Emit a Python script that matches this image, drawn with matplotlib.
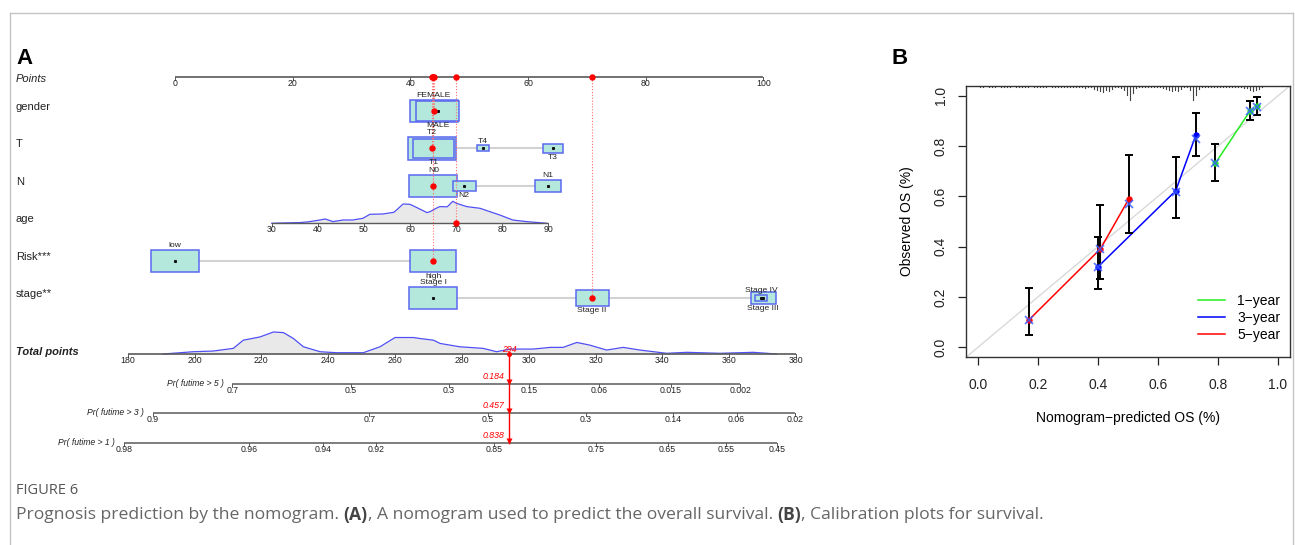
import numpy as np
import matplotlib
matplotlib.use("Agg")
import matplotlib.pyplot as plt
from matplotlib.patches import Rectangle
from matplotlib.lines import Line2D

W, H, DPI = 1295, 545, 100
SANS = ["Liberation Sans", "DejaVu Sans"]
plt.rcParams["font.family"] = SANS

# ---------------- nomogram data ----------------
points_ticks = [0, 20, 40, 60, 80, 100]

gender_levels = ["FEMALE", "MALE"]
gender_points = [44.0, 44.65]
gender_counts = [190, 155]

t_levels = ["T2", "T1", "T4", "T3"]
t_points = [43.7, 43.9, 52.35, 64.2]
t_counts = [180, 130, 13, 31]

n_levels = ["N0", "N2", "N1"]
n_points = [43.9, 49.15, 63.35]
n_counts = [240, 55, 70]

risk_levels = ["low", "high"]
risk_points = [0.0, 43.9]
risk_counts = [185, 170]

stage_levels = ["Stage I", "Stage II", "Stage IV", "Stage III"]
stage_points = [43.9, 70.9, 99.6, 100.0]
stage_counts = [190, 90, 12, 50]

age_ticks = [30, 40, 50, 60, 70, 80, 90]
age_points_at_30 = 16.44
age_points_per_year = 0.7833
age_density_x = [30, 32.2, 36.1, 38.0, 40.5, 41.6, 43.3, 45.5, 47.6, 49.8, 51.3, 54.1,
                 56.5, 57.5, 58.5, 60.0, 61.5, 63.7, 64.3, 65.9, 66.5, 68.1, 69.3, 70.1,
                 72.3, 75.2, 77.3, 79.5, 82.3, 85.3, 89.7]
age_density_y = [0, 0.3, 0.7, 1.5, 3.3, 4.3, 1.7, 3.3, 3.3, 5.0, 9.0, 9.3,
                 11.0, 15.0, 19.3, 19.0, 15.7, 10.7, 11.5, 15.5, 16.7, 16.5, 22.0, 20.0,
                 16.7, 15.0, 11.7, 8.3, 3.3, 1.7, 0]

total_ticks = [180, 200, 220, 240, 260, 280, 300, 320, 340, 360, 380]
total_density_x = [190.7, 199.6, 205.6, 211.6, 214.6, 219.6, 223.6, 226.6, 229.6, 232.6,
                   237.6, 242.5, 250.5, 255.5, 260.0, 265.5, 267.5, 271.5, 273.5, 279.4,
                   286.4, 290.4, 294.4, 301.4, 306.4, 310.3, 314.4, 318.3, 323.3, 328.3,
                   333.3, 341.3, 347.3, 357.2, 367.2, 374.2]
total_density_y = [0, 2.3, 3.0, 5.7, 14.0, 17.3, 22.3, 21.7, 15.7, 7.3,
                   2.3, 1.3, 1.3, 7.3, 16.7, 16.7, 15.7, 14.0, 10.7, 7.3,
                   5.7, 2.3, 5.0, 5.0, 6.7, 6.7, 11.7, 9.0, 4.0, 6.7,
                   4.0, 0.7, 1.7, 0.7, 1.7, 0]

pr5_ticks = [0.7, 0.5, 0.3, 0.15, 0.06, 0.015, 0.002]
pr3_ticks = [0.9, 0.7, 0.5, 0.3, 0.14, 0.06, 0.02]
pr1_ticks = [0.98, 0.96, 0.94, 0.92, 0.85, 0.75, 0.65, 0.55, 0.45]
surv_selected = {5: 0.184, 3: 0.457, 1: 0.838}
lp_per_total_point = 0.0188

sel = {"gender": "FEMALE", "T": "T2", "N": "N0", "age": 70, "Risk": "high", "stage": "Stage II"}

# ---------------- calibration data ----------------
pred_1 = [0.791, 0.907, 0.929]
obs_1 = [0.731, 0.940, 0.958]
lo_1 = [0.660, 0.903, 0.923]
hi_1 = [0.809, 0.980, 0.994]
corr_1 = [0.731, 0.940, 0.955]

pred_3 = [0.400, 0.659, 0.726]
obs_3 = [0.320, 0.622, 0.843]
lo_3 = [0.233, 0.515, 0.762]
hi_3 = [0.440, 0.756, 0.932]
corr_3 = [0.318, 0.618, 0.828]

pred_5 = [0.169, 0.408, 0.502]
obs_5 = [0.108, 0.391, 0.588]
lo_5 = [0.049, 0.270, 0.455]
hi_5 = [0.234, 0.564, 0.763]
corr_5 = [0.108, 0.390, 0.570]

calib_ticks = [0.0, 0.2, 0.4, 0.6, 0.8, 1.0]
hist_bin_width = 0.01
hist_counts = [1, 1, 0, 1, 1, 1, 0, 1, 1, 1,
               1, 0, 1, 1, 1, 1, 1, 0, 1, 1,
               1, 1, 1, 0, 1, 1, 1, 1, 1, 1,
               1, 1, 1, 1, 1, 2, 1, 1, 3, 4,
               5, 6, 4, 5, 3, 1, 1, 2, 4, 9,
               14, 7, 2, 1, 1, 1, 1, 1, 1, 1,
               1, 2, 3, 4, 5, 4, 5, 3, 1, 1,
               4, 14, 9, 3, 1, 1, 1, 1, 1, 1,
               1, 1, 1, 1, 1, 1, 1, 1, 2, 2,
               4, 5, 4, 3, 1]

# ---------------- figure ----------------
fig = plt.figure(figsize=(W / DPI, H / DPI), dpi=DPI)

# panel A works in nomogram "points" along x and pixel rows along y
P0, PPP = 175.0, 5.883          # pixel of 0 points, pixels per point
axA = fig.add_axes([0, 0, 1, 1])
axA.set_xlim(-P0 / PPP, (W - P0) / PPP)
axA.set_ylim(H, 0)
axA.axis("off")


def xp(px):
    return (px - P0) / PPP


ROW = dict(points=77, gender=111, T=148.3, N=186, age=223.3, risk=261, stage=298,
           total=354, pr5=384.3, pr3=413.3, pr1=443.3)
BOX_W, BOX_H = 48.0, 22.8
BOX_FC, BOX_EC = "#b4e8dc", "#5a68f0"
AXC = "#5a5a5a"
RED = "#ff0000"
TICKFS, SMALLFS, ROWFS = 6.3, 6.1, 8.0

TOT_LO, TOT_HI = xp(127.7), xp(796.0)


def total_to_x(t):
    return TOT_LO + (np.asarray(t, float) - total_ticks[0]) * (TOT_HI - TOT_LO) / (total_ticks[-1] - total_ticks[0])


def age_to_x(a):
    return age_points_at_30 + (np.asarray(a, float) - 30) * age_points_per_year


def draw_scale(xs, labels, y, lw=1.0):
    xs = np.asarray(xs, float)
    axA.plot([xs.min(), xs.max()], [y, y], color=AXC, lw=lw, solid_capstyle="butt", zorder=3)
    for xv, lab in zip(xs, labels):
        axA.plot([xv, xv], [y, y + 3], color=AXC, lw=0.7, zorder=3)
        axA.text(xv, y + 6.2, lab, ha="center", va="center", fontsize=TICKFS, color="#222222")


def row_label(txt, y, **kw):
    axA.text(xp(16), y, txt, ha="left", va="center", fontsize=ROWFS, color="#222222", **kw)


# Points scale
draw_scale(points_ticks, [str(v) for v in points_ticks], ROW["points"], lw=1.2)
row_label("Points", ROW["points"] + 2.3, style="italic")

selected_x = {}


def draw_factor(key, name, levels, pts, counts, y):
    cmax = max(counts)
    axA.plot([min(pts), max(pts)], [y, y], color="#d2d2d2", lw=1.5, zorder=1)
    sizes = [np.sqrt(c / cmax) for c in counts]
    for i in sorted(range(len(levels)), key=lambda k: -counts[k]):
        w = BOX_W * sizes[i] / PPP
        h = BOX_H * sizes[i]
        axA.add_patch(Rectangle((pts[i] - w / 2, y - h / 2), w, h, fc=BOX_FC, ec=BOX_EC,
                                lw=1.1, zorder=2))
    order = sorted(range(len(levels)), key=lambda k: pts[k])
    for rank, i in enumerate(order):
        h = BOX_H * sizes[i]
        ty = y - h / 2 - 4.2 if rank % 2 == 0 else y + h / 2 + 4.2
        axA.text(pts[i], ty, levels[i], ha="center", va="center", fontsize=SMALLFS, color="#222222", zorder=6)
        axA.plot(pts[i], y, "s", ms=1.2, color="#111111", zorder=4)
    j = levels.index(sel[key])
    selected_x[key] = (pts[j], y)
    row_label(name, y - 4.4)


draw_factor("gender", "gender", gender_levels, gender_points, gender_counts, ROW["gender"])
draw_factor("T", "T", t_levels, t_points, t_counts, ROW["T"])
draw_factor("N", "N", n_levels, n_points, n_counts, ROW["N"])

# age scale with density
ya = ROW["age"]
ax_age = age_to_x(age_density_x)
hd = np.asarray(age_density_y) / max(age_density_y) * 22.0
axA.fill_between(ax_age, ya, ya - hd, color="#e9e9e9", lw=0, zorder=1)
axA.plot(ax_age, ya - hd, color="#4f4ff5", lw=0.9, zorder=2)
draw_scale(age_to_x(age_ticks), [str(v) for v in age_ticks], ya)
row_label("age", ya - 4.3)
selected_x["age"] = (float(age_to_x(sel["age"])), ya)

draw_factor("Risk", "Risk***", risk_levels, risk_points, risk_counts, ROW["risk"])
draw_factor("stage", "stage**", stage_levels, stage_points, stage_counts, ROW["stage"])

# red markers for the chosen patient
for key, (sx, sy) in selected_x.items():
    axA.plot([sx, sx], [ROW["points"], sy], color="#ff7070", lw=0.8, ls=(0, (1, 1.6)), zorder=5)
    axA.plot(sx, sy, "o", ms=4.6, color=RED, mec="none", zorder=7)
    axA.plot(sx, ROW["points"], "o", ms=4.6, color=RED, mec="none", zorder=7)

total_sel = sum(v[0] for v in selected_x.values())

# total points scale with density
yt = ROW["total"]
tx = total_to_x(total_density_x)
hd = np.asarray(total_density_y) / max(total_density_y) * 22.0
axA.fill_between(tx, yt, yt - hd, color="#e9e9e9", lw=0, zorder=1)
axA.plot(tx, yt - hd, color="#4f4ff5", lw=0.9, zorder=2)
draw_scale(total_to_x(total_ticks), [str(v) for v in total_ticks], yt, lw=1.2)
row_label("Total points", yt - 2.3, style="italic", weight="bold")

x_tot = float(total_to_x(total_sel))
axA.text(x_tot, yt - 5, f"{round(total_sel)}", ha="center", va="center", fontsize=6.3,
         color=RED, style="italic", zorder=8)


# survival probability scales
def prob_to_x(p, horizon):
    lp = np.log(-np.log(np.asarray(p, float)))
    lp0 = np.log(-np.log(surv_selected[horizon]))
    return total_to_x(total_sel + (lp - lp0) / lp_per_total_point)


for horizon, ticks, key in [(5, pr5_ticks, "pr5"), (3, pr3_ticks, "pr3"), (1, pr1_ticks, "pr1")]:
    y = ROW[key]
    xs = prob_to_x(ticks, horizon)
    draw_scale(xs, [f"{v:g}" for v in ticks], y, lw=1.1)
    axA.text(xs.min() - 9 / PPP, y - 1.0, f"Pr( futime > {horizon} )", ha="right", va="center",
             fontsize=6.2, style="italic", color="#222222")
    axA.plot(x_tot, y - 2.2, "v", ms=4.2, color=RED, mec="none", zorder=8)
    axA.text(x_tot - 5 / PPP, y - 7.6, f"{surv_selected[horizon]:.3f}", ha="right", va="center",
             fontsize=6.3, color=RED, style="italic", zorder=8)

axA.plot([x_tot, x_tot], [yt, ROW["pr1"]], color=RED, lw=1.0, zorder=7)
axA.plot(x_tot, yt, "o", ms=3.6, color=RED, mec="none", zorder=8)

# panel letters
fig.text(16 / W, 1 - 58 / H, "A", fontsize=16, weight="bold", ha="left", va="center")
fig.text(891 / W, 1 - 58 / H, "B", fontsize=16, weight="bold", ha="left", va="center")

# ---------------- panel B: calibration ----------------
axB = fig.add_axes([966 / W, 1 - 357.3 / H, (1290 - 966) / W, (357.3 - 85.7) / H])
axB.set_xlim(-0.04, 1.04)
axB.set_ylim(-0.04, 1.04)
for s in axB.spines.values():
    s.set_color("#333333")
    s.set_linewidth(1.0)
axB.set_xticks(calib_ticks)
axB.set_xticklabels([f"{v:.1f}" for v in calib_ticks])
axB.set_yticks(calib_ticks)
axB.set_yticklabels([f"{v:.1f}" for v in calib_ticks], rotation=90, va="center")
axB.tick_params(axis="both", length=5.5, width=0.9, labelsize=10, colors="#222222")
axB.tick_params(axis="x", pad=9.5)
axB.tick_params(axis="y", pad=7.5)

axB.plot([-0.04, 1.04], [-0.04, 1.04], color="#d9d9d9", lw=1.0, zorder=1)

# distribution of predicted values hanging from the top border
spike_max = 0.056
cmax = max(hist_counts)
for i, c in enumerate(hist_counts):
    if c > 0:
        xv = (i + 0.5) * hist_bin_width
        axB.plot([xv, xv], [1.04, 1.04 - c / cmax * spike_max], color="#444444", lw=0.8, zorder=2)

series = [("1\u2212year", "#22ee22", pred_1, obs_1, lo_1, hi_1, corr_1),
          ("3\u2212year", "#0000ff", pred_3, obs_3, lo_3, hi_3, corr_3),
          ("5\u2212year", "#ff0000", pred_5, obs_5, lo_5, hi_5, corr_5)]


def gapped_line(ax, xs, ys, color, gap_px=4.0):
    pts = ax.transData.transform(np.column_stack([xs, ys]))
    inv = ax.transData.inverted()
    for p0, p1 in zip(pts[:-1], pts[1:]):
        d = p1 - p0
        L = np.hypot(*d)
        if L <= 2 * gap_px:
            continue
        u = d / L
        a = inv.transform(p0 + u * gap_px)
        b = inv.transform(p1 - u * gap_px)
        ax.plot([a[0], b[0]], [a[1], b[1]], color=color, lw=1.1, zorder=3)


handles = []
for name, col, px_, ob, lo, hi, cr in series:
    gapped_line(axB, px_, ob, col)
    axB.errorbar(px_, ob, yerr=[np.subtract(ob, lo), np.subtract(hi, ob)], fmt="none",
                 ecolor="black", elinewidth=1.4, capsize=3.2, capthick=1.4, zorder=4)
    axB.plot(px_, ob, "o", ms=4.6, color=col, mec="none", zorder=5)
    axB.plot(px_, cr, "x", ms=5.5, mew=1.2, color="#3a5cff", alpha=0.85, zorder=6)
    handles.append(Line2D([], [], color=col, lw=1.1, label=name))

axB.legend(handles=handles, loc="lower right", frameon=False, fontsize=10,
           handlelength=1.9, handletextpad=0.9, labelspacing=0.22,
           bbox_to_anchor=(1.0, 0.02), borderaxespad=0.3)

fig.text(1128 / W, 1 - 418.3 / H, "Nomogram\u2212predicted OS (%)", ha="center", va="center", fontsize=10)
fig.text(906.7 / W, 1 - 221.5 / H, "Observed OS (%)", ha="center", va="center", fontsize=10, rotation=90)

# ---------------- outer frame and caption ----------------
frame_c = "#c4c4c4"
fig.add_artist(Line2D([10 / W, 10 / W], [0, 1 - 13 / H], color=frame_c, lw=1.0))
fig.add_artist(Line2D([10 / W, 1293 / W], [1 - 13 / H, 1 - 13 / H], color=frame_c, lw=1.0))
fig.add_artist(Line2D([1293 / W, 1293 / W], [0, 1 - 13 / H], color=frame_c, lw=1.0))

CAP = ["Open Sans", "DejaVu Sans"]
fig.text(16 / W, 1 - 490 / H, "FIGURE 6", fontsize=10.5, color="#555555", family=CAP,
         ha="left", va="center")

pieces = [("Prognosis prediction by the nomogram. ", "normal"), ("(A)", "bold"),
          (", A nomogram used to predict the overall survival. ", "normal"), ("(B)", "bold"),
          (", Calibration plots for survival.", "normal")]
renderer = fig.canvas.get_renderer()
xcur = 16.0
for txt, wt in pieces:
    t = fig.text(xcur / W, 1 - 515 / H, txt, fontsize=12.6, color="#666666" if wt == "normal" else "#444444",
                 family=CAP, weight=wt, ha="left", va="center")
    xcur += t.get_window_extent(renderer).width

fig.savefig("out.png", dpi=DPI)
